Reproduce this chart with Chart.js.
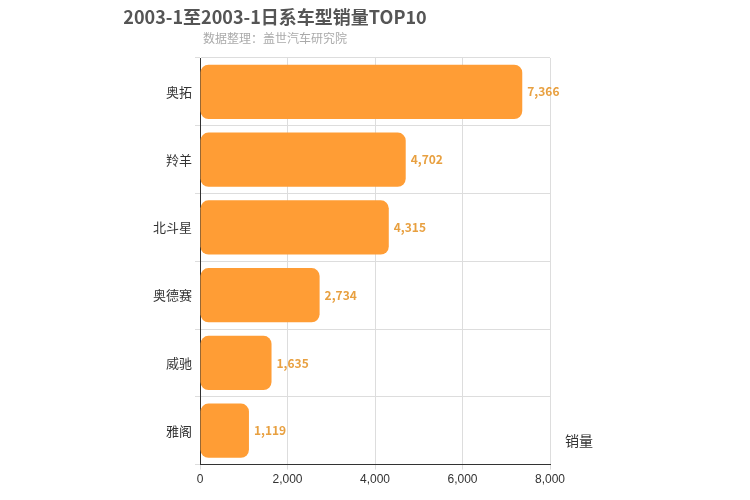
<!DOCTYPE html>
<html><head><meta charset="utf-8">
<script src="https://cdn.jsdelivr.net/npm/chart.js@4/dist/chart.umd.min.js"></script>
<style>body{margin:0;background:#fff}</style>
</head><body><canvas id="c" width="750" height="500"></canvas>
<script>
var categories = ['奥拓', '羚羊', '北斗星', '奥德赛', '威驰', '雅阁'];
var sales = [7366, 4702, 4315, 2734, 1635, 1119];
var xTicks = [0, 2000, 4000, 6000, 8000];

var valueLabels = {
  id: 'valueLabels',
  afterDatasetsDraw: function (chart) {
    var ctx = chart.ctx;
    var meta = chart.getDatasetMeta(0);
    ctx.save();
    ctx.font = 'bold 12px "Noto Sans CJK SC", sans-serif';
    ctx.fillStyle = '#e8a040';
    ctx.textBaseline = 'middle';
    meta.data.forEach(function (bar, i) {
      ctx.fillText(sales[i].toLocaleString('en-US'), bar.x + 5, bar.y);
    });
    // axis title
    ctx.font = '14px "Noto Sans CJK SC", sans-serif';
    ctx.fillStyle = '#333';
    ctx.fillText('销量', 565, 441);
    ctx.restore();
  }
};

new Chart(document.getElementById('c'), {
  type: 'bar',
  data: {
    labels: categories,
    datasets: [{
      data: sales,
      backgroundColor: '#ff9d35',
      borderRadius: 8,
      borderSkipped: false,
      categoryPercentage: 0.8,
      barPercentage: 1
    }]
  },
  options: {
    indexAxis: 'y',
    responsive: false,
    animation: false,
    devicePixelRatio: 1,
    layout: { padding: { left: 0, right: 200, top: 0, bottom: 10 } },
    plugins: {
      legend: { display: false },
      tooltip: { enabled: false },
      title: {
        display: true,
        text: '2003-1至2003-1日系车型销量TOP10',
        color: '#555',
        font: { size: 18, weight: 'bold', family: '"Noto Sans CJK SC", sans-serif' },
        padding: { top: 6, bottom: 4 }
      },
      subtitle: {
        display: true,
        text: '数据整理：盖世汽车研究院',
        color: '#aaa',
        font: { size: 12, family: '"Noto Sans CJK SC", sans-serif' },
        padding: { bottom: 12 }
      }
    },
    scales: {
      x: {
        min: 0, max: 8000,
        afterBuildTicks: function (s) { s.ticks = xTicks.map(function (v) { return { value: v }; }); },
        ticks: { color: '#333', font: { size: 12 }, callback: function (v) { return v.toLocaleString('en-US'); } },
        grid: { color: '#ddd', tickLength: 5 },
        border: { color: '#333' }
      },
      y: {
        afterFit: function (s) { s.width = 200; },
        ticks: { color: '#333', font: { size: 13, family: '"Noto Sans CJK SC", sans-serif' } },
        grid: { color: '#ddd', offset: true, tickLength: 5 },
        border: { color: '#333' }
      }
    }
  },
  plugins: [valueLabels]
});
</script>
</body></html>
